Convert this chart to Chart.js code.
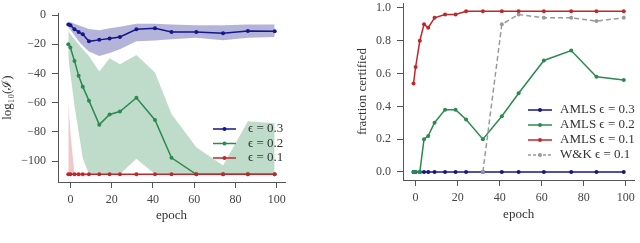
<!DOCTYPE html>
<html>
<head>
<meta charset="utf-8">
<script src="https://cdn.jsdelivr.net/npm/chart.js"></script>
<style>
  body { margin: 0; width: 640px; height: 243px; overflow: hidden; background: #fff; }
  .box { position: absolute; }
  #left { left: 0; top: 0; width: 320px; height: 243px; }
  #right { left: 320px; top: -10px; width: 320px; height: 253px; }
</style>
</head>
<body>
<div class="box" id="left"><canvas id="lossChart"></canvas></div>
<div class="box" id="right"><canvas id="certChart"></canvas></div>
<script>
// epochs at which both panels were evaluated
const epochs = [-1, 0, 2, 4, 6, 9, 14, 19, 24, 32, 41, 49, 61, 74, 86, 99];
const xTicks = [0, 20, 40, 60, 80, 100];

// left panel: log10(I), mean and band
const logI_03 = [-6.4, -7, -9.8, -11.6, -13.2, -18, -17, -16, -15, -9.8, -9.1, -11.6, -11.6, -12.5, -10.9, -11.1];
const logI_03_hi = [-4.5, -5, -6, -7, -8, -9.5, -10.5, -9, -8, -6, -6, -6.5, -7, -7, -6.5, -6.5];
const logI_03_lo = [-8.5, -10, -14, -18, -21, -25, -28, -26, -23.5, -18, -17.5, -16.5, -15.5, -17.3, -15.5, -15];
const logI_02 = [-20, -22.3, -31.4, -41.6, -49, -58.6, -75, -68, -66, -56.6, -71.8, -97.7, -109, -109, -109, -109];
const logI_02_hi = [-11, -13, -16.6, -20, -23.4, -28, -38.6, -29.5, -33.6, -27.3, -39.3, -67.7, -90.5, -103, -72.7, -74];
const logI_02_lo = [-30, -40, -62, -80, -98, -109, -109, -109, -109, -98.3, -109, -109, -109, -109, -109, -109];
const logI_01 = [-109, -109, -109, -109, -109, -109, -109, -109, -109, -109, -109, -109, -109, -109, -109, -109];
const logI_01_hi = [-60, -80, -109, -109, -109, -109, -109, -109, -109, -109, -109, -109, -109, -109, -109, -109];
const logI_01_lo = [-109, -109, -109, -109, -109, -109, -109, -109, -109, -109, -109, -109, -109, -109, -109, -109];
const yTicksLeft = [0, -20, -40, -60, -80, -100];

// right panel: fraction certified
const amls_03 = [0, 0, 0, 0, 0, 0, 0, 0, 0, 0, 0, 0, 0, 0, 0, 0];
const amls_02 = [0, 0, 0, 0.2, 0.22, 0.30, 0.38, 0.38, 0.32, 0.20, 0.34, 0.48, 0.68, 0.74, 0.58, 0.56];
const amls_01 = [0.54, 0.64, 0.80, 0.90, 0.88, 0.94, 0.96, 0.96, 0.98, 0.98, 0.98, 0.98, 0.98, 0.98, 0.98, 0.98];
const wk_01 = [null, null, null, null, null, null, null, null, null, 0, 0.90, 0.96, 0.94, 0.94, 0.92, 0.94];
const yTicksRight = [0, 0.2, 0.4, 0.6, 0.8, 1.0];

const BLUE = '#16168c', GREEN = '#2b8a50', RED = '#c3252b', GRAY = '#9a9a9a';
const SERIF = "'Liberation Serif', 'DejaVu Serif', serif";

function pts(arr) {
  return epochs.map((x, i) => ({ x: x, y: arr[i] }));
}

function lineSet(label, arr, color, order, dash) {
  return {
    label: label, data: pts(arr), borderColor: color, backgroundColor: color,
    borderWidth: 1.5, borderDash: dash || [], pointRadius: 2, pointBorderWidth: 0,
    pointBackgroundColor: color, fill: false, order: order, tension: 0
  };
}

function bandSet(arr, fillColor, fillTo) {
  return {
    data: pts(arr), borderColor: 'transparent', borderWidth: 0, pointRadius: 0,
    backgroundColor: fillColor, fill: fillTo, order: 20, tension: 0
  };
}

// legend drawn inside the plot, matplotlib style
const inlineLegend = {
  id: 'inlineLegend',
  afterDraw(chart, args, opts) {
    const ctx = chart.ctx;
    ctx.save();
    let y = opts.y;
    chart.data.datasets.forEach(ds => {
      if (!ds.label) return;
      ctx.strokeStyle = ds.borderColor;
      ctx.lineWidth = ds.borderWidth;
      ctx.setLineDash(ds.borderDash.length ? [3, 2] : []);
      ctx.beginPath();
      ctx.moveTo(opts.x, y);
      ctx.lineTo(opts.x + opts.lineLen, y);
      ctx.stroke();
      ctx.setLineDash([]);
      ctx.fillStyle = ds.borderColor;
      ctx.beginPath();
      ctx.arc(opts.x + opts.lineLen / 2, y, 2, 0, 2 * Math.PI);
      ctx.fill();
      ctx.fillStyle = '#333';
      ctx.font = '13px ' + SERIF;
      ctx.textBaseline = 'middle';
      ctx.fillText(ds.label, opts.x + opts.lineLen + opts.gap, y);
      y += opts.rowH;
    });
    ctx.restore();
  }
};

function axes(cfg) {
  const tickFont = { family: SERIF, size: 12 };
  const titleFont = { family: SERIF, size: 13 };
  const grid = { drawOnChartArea: false, drawTicks: true, tickLength: 6, tickColor: '#555', tickWidth: 1 };
  const border = { display: true, color: '#555', width: 1 };
  return {
    x: {
      type: 'linear', min: -6, max: 104, grid: grid, border: border,
      afterBuildTicks: s => { s.ticks = xTicks.map(v => ({ value: v })); },
      afterFit: s => { s.height = cfg.xHeight; },
      ticks: { font: tickFont, color: '#444', padding: 5, maxRotation: 0 },
      title: { display: true, text: 'epoch', font: titleFont, color: '#333', padding: { top: 0, bottom: cfg.xTitlePad } }
    },
    y: {
      type: 'linear', min: cfg.yMin, max: cfg.yMax, grid: grid, border: border,
      afterBuildTicks: s => { s.ticks = cfg.yTicks.map(v => ({ value: v })); },
      afterFit: s => { s.width = cfg.yWidth; },
      ticks: { font: tickFont, color: '#444', padding: 6, callback: cfg.fmt },
      title: { display: true, text: cfg.yTitle, font: titleFont, color: '#333', padding: { top: cfg.yTitlePad, bottom: 0 } }
    }
  };
}

new Chart(document.getElementById('lossChart'), {
  type: 'line',
  data: {
    datasets: [
      lineSet('ϵ = 0.3', logI_03, BLUE, 3),
      lineSet('ϵ = 0.2', logI_02, GREEN, 2),
      lineSet('ϵ = 0.1', logI_01, RED, 1),
      bandSet(logI_03_hi, 'rgba(22,22,140,0.32)', '+1'),
      bandSet(logI_03_lo, 'transparent', false),
      bandSet(logI_02_hi, 'rgba(43,138,80,0.3)', '+1'),
      bandSet(logI_02_lo, 'transparent', false),
      bandSet(logI_01_hi, 'rgba(195,37,43,0.25)', '+1'),
      bandSet(logI_01_lo, 'transparent', false)
    ]
  },
  options: {
    responsive: true, maintainAspectRatio: false, animation: false,
    layout: { padding: { top: 12, right: 35, left: 0, bottom: 0 } },
    scales: axes({
      yMin: -114.25, yMax: 1.25, yTicks: yTicksLeft, yWidth: 58, xHeight: 61,
      xTitlePad: 20, yTitlePad: 0, yTitle: 'log₁₀(ℐ)',
      fmt: v => v < 0 ? '−' + Math.abs(v) : String(v)
    }),
    plugins: {
      legend: { display: false }, tooltip: { enabled: false },
      filler: { drawTime: 'beforeDatasetsDraw' },
      inlineLegend: { x: 213, y: 129, lineLen: 23, gap: 12, rowH: 14.5 }
    }
  },
  plugins: [inlineLegend]
});

new Chart(document.getElementById('certChart'), {
  type: 'line',
  data: {
    datasets: [
      lineSet('AMLS ϵ = 0.3', amls_03, BLUE, 4),
      lineSet('AMLS ϵ = 0.2', amls_02, GREEN, 3),
      lineSet('AMLS ϵ = 0.1', amls_01, RED, 2),
      lineSet('W&K ϵ = 0.1', wk_01, GRAY, 1, [5, 3])
    ]
  },
  options: {
    responsive: true, maintainAspectRatio: false, animation: false,
    layout: { padding: { top: 8, right: 1, left: 0, bottom: 0 } },
    scales: axes({
      yMin: -0.049, yMax: 1.029, yTicks: yTicksRight, yWidth: 83, xHeight: 63,
      xTitlePad: 21, yTitlePad: 35, yTitle: 'fraction certified',
      fmt: v => v.toFixed(1)
    }),
    plugins: {
      legend: { display: false }, tooltip: { enabled: false },
      inlineLegend: { x: 208, y: 120, lineLen: 24, gap: 8, rowH: 15 }
    }
  },
  plugins: [inlineLegend]
});
</script>
</body>
</html>
